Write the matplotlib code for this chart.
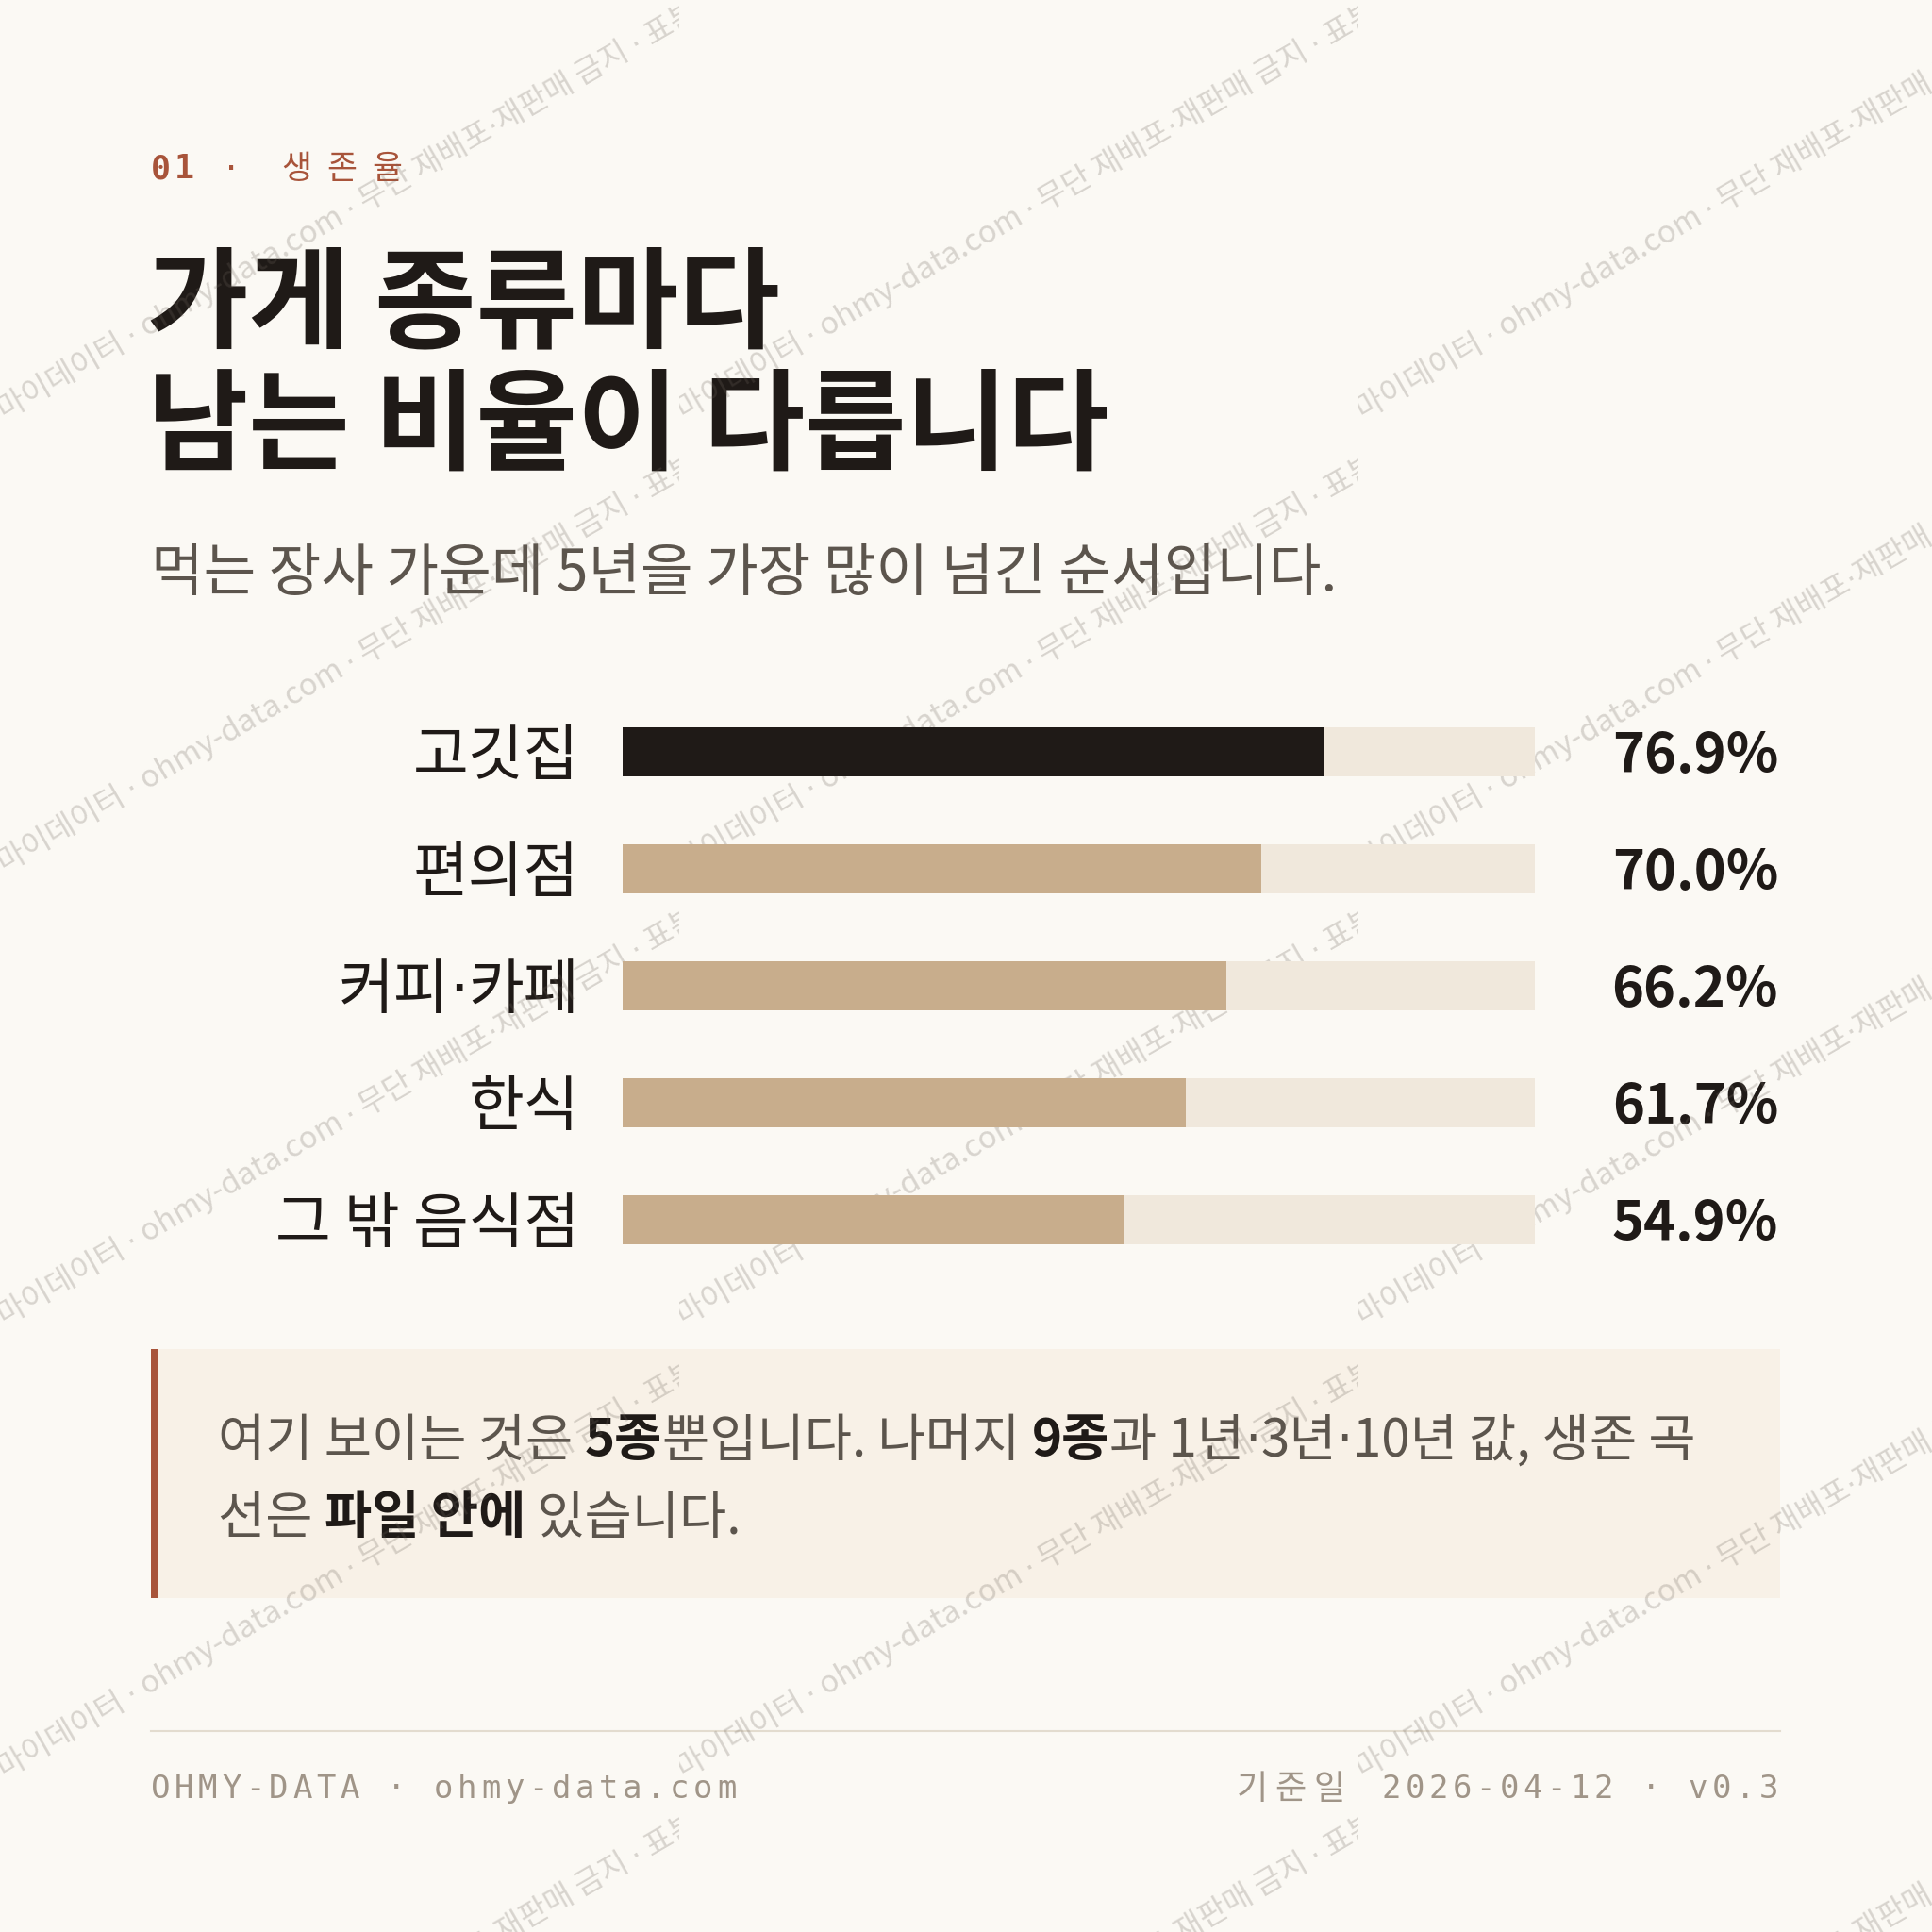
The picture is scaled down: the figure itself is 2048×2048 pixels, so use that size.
import math

import matplotlib
matplotlib.use('Agg')
import matplotlib.pyplot as plt
from matplotlib.patches import Rectangle
from matplotlib.transforms import Bbox

plt.rcParams['font.family'] = ['Noto Sans CJK KR', 'DejaVu Sans']

# data
categories = ['고깃집', '편의점', '커피·카페', '한식', '그 밖 음식점']
rates = [76.9, 70.0, 66.2, 61.7, 54.9]

kicker_word = '생존율'
title_lines = ['가게 종류마다', '남는 비율이 다릅니다']
subtitle = '먹는 장사 가운데 5년을 가장 많이 넘긴 순서입니다.'
note_lines = [
    [('여기 보이는 것은 ', False), ('5종', True), ('뿐입니다. 나머지 ', False),
     ('9종', True), ('과 1년·3년·10년 값, 생존 곡', False)],
    [('선은 ', False), ('파일 안에', True), (' 있습니다.', False)],
]
footer_left = 'OHMY-DATA · ohmy-data.com'
footer_right_ko = '기준일'
footer_right = '2026-04-12 · v0.3'
watermark = '마이데이터 · ohmy-data.com · 무단 재배포·재판매 금지 · 표본 데이터'

COLORS = {
    'bg': '#fbf9f4',
    'ink': '#1f1a17',
    'tan': '#c8ad8c',
    'track': '#f0e8dc',
    'rust': '#a8543a',
    'grey': '#5c554d',
    'muted': '#a09588',
    'box': '#f8f1e7',
    'rule': '#e3dccf',
}

W = 2048
fig = plt.figure(figsize=(20.48, 20.48), dpi=100, facecolor=COLORS['bg'])
ax = fig.add_axes([0, 0, 1, 1])
ax.set_xlim(0, W)
ax.set_ylim(W, 0)
ax.axis('off')
renderer = fig.canvas.get_renderer()

MONO = 'DejaVu Sans Mono'


def split_dots(s):
    # the CJK middle dot is wide, so draw it in DejaVu Sans
    out = []
    parts = s.split('·')
    for i, p in enumerate(parts):
        if p:
            out.append((p, False))
        if i < len(parts) - 1:
            out.append(('·', True))
    return out


def rich(x, y, runs, ha='left', va='center', angle=0, clip=None, **kw):
    """runs: list of (text, dict of text props). Draws pieces side by side."""
    pieces = []
    for txt, props in runs:
        for seg, is_dot in split_dots(txt):
            p = dict(kw)
            p.update(props)
            if is_dot:
                p['family'] = 'DejaVu Sans'
            t = ax.text(0, 0, seg, ha='left', va=va, **p)
            pieces.append((t, t.get_window_extent(renderer).width))
    total = sum(w for _, w in pieces)
    s = -total if ha == 'right' else 0.0
    dx, dy = math.cos(math.radians(angle)), -math.sin(math.radians(angle))
    for t, w in pieces:
        t.set_position((x + s * dx, y + s * dy))
        if angle:
            t.set_rotation(angle)
            t.set_rotation_mode('anchor')
        if clip is not None:
            t.set_clip_on(True)
            t.set_clip_box(clip)
        s += w
    return total


def mono_text(x0, y, s, pitch, size, color, weight='normal'):
    adv = size / 72 * 100 * 0.602
    for i, ch in enumerate(s):
        ax.text(x0 + i * pitch + adv / 2, y, ch, family=MONO, fontsize=size,
                color=color, weight=weight, ha='center', va='center')


# kicker
mono_text(160, 179, '01', 25, 25, COLORS['rust'], weight='bold')
mono_text(210, 179, ' · ', 25, 24, COLORS['rust'])
for i, ch in enumerate(kicker_word):
    ax.text(314 + i * 48, 180, ch, fontsize=25, color=COLORS['rust'],
            ha='center', va='center')

# title
for i, line in enumerate(title_lines):
    ax.text(156, 325 + i * 130, line, fontsize=84, weight='bold',
            color=COLORS['ink'], ha='left', va='center')

ax.text(160, 609, subtitle, fontsize=43.5, color=COLORS['grey'],
        ha='left', va='center')

# bars
n = len(categories)
row_px = 124
top = 797 - row_px / 2
bax = fig.add_axes([660 / W, 1 - (top + n * row_px) / W, 967 / W, n * row_px / W])
bax.set_xlim(0, 100)
bax.set_ylim(n - 0.5, -0.5)
bax.axis('off')
bh = 52 / row_px
ypos = list(range(n))
bax.barh(ypos, [100] * n, height=bh, color=COLORS['track'], linewidth=0)
bar_colors = [COLORS['ink']] + [COLORS['tan']] * (n - 1)
bax.barh(ypos, rates, height=bh, color=bar_colors, linewidth=0)

to_px = ax.transData.inverted()
for i, (cat, r) in enumerate(zip(categories, rates)):
    x_left, y_row = to_px.transform(bax.transData.transform((0, i)))
    x_end, _ = to_px.transform(bax.transData.transform((100, i)))
    rich(x_left - 46, y_row + 6, [(cat, {})], ha='right', fontsize=46,
         color=COLORS['ink'])
    ax.text(x_end + 258, y_row + 5, f'{r:.1f}%', fontsize=41.5, weight='bold',
            color=COLORS['ink'], ha='right', va='center')

# note box
ax.add_patch(Rectangle((160, 1430), 1727, 264, facecolor=COLORS['box'],
                       edgecolor='none', zorder=1))
ax.add_patch(Rectangle((160, 1430), 8, 264, facecolor=COLORS['rust'],
                       edgecolor='none', zorder=2))
for li, runs in enumerate(note_lines):
    styled = [(txt, {'weight': 'bold' if b else 'normal',
                     'color': COLORS['ink'] if b else COLORS['grey']})
              for txt, b in runs]
    rich(231, 1528 + li * 82, styled, fontsize=39.3, zorder=3)

# footer
ax.plot([160, 1887], [1835, 1835], color=COLORS['rule'], lw=1.5)
mono_text(160, 1896, footer_left, 25, 24.5, COLORS['muted'])
mono_text(1885 - len(footer_right) * 25 + 4.5, 1896, footer_right, 25, 24.5,
          COLORS['muted'])
for i, ch in enumerate(footer_right_ko):
    ax.text(1327 + i * 41, 1897, ch, fontsize=26, color=COLORS['muted'],
            ha='center', va='center')

# watermark tiles, each one clipped to its own cell
tw, th = 720, 480
for c in range(3):
    for r in range(-1, 5):
        x0, y0 = c * tw, r * th
        clip = Bbox.from_extents(x0, W - (y0 + th), x0 + tw, W - y0)
        rich(x0 + 4, y0 + 445, [(watermark, {})], va='baseline', angle=30,
             clip=clip, fontsize=23.5, color='#6e655c', alpha=0.25, zorder=10)

fig.savefig('out.png', dpi=100, facecolor=COLORS['bg'])
